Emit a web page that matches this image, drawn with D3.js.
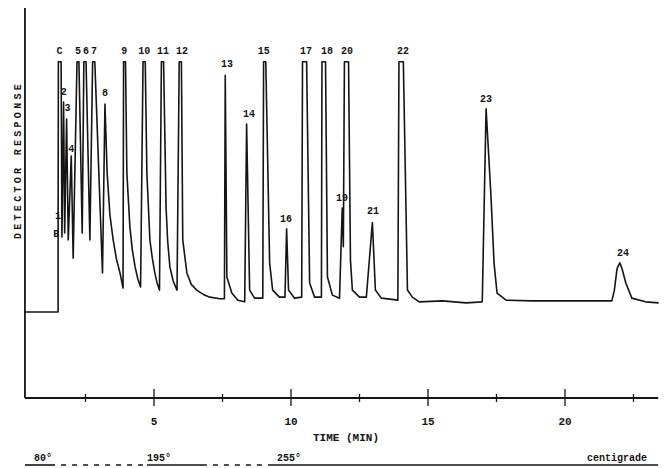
<!DOCTYPE html>
<html>
<head>
<meta charset="utf-8">
<script src="https://cdn.jsdelivr.net/npm/d3@7"></script>
<style>
    body { margin: 0; background: #fff; }
    svg { display: block; }
    .lbl { font-family: "Liberation Mono", "DejaVu Sans Mono", monospace; font-weight: bold; fill: #151515; }
</style>
</head>
<body>
<div id="chart"></div>
<script>
// trace: [time (min), detector response]
var trace = [
    [0.27,25.6],[1.50,25.6],[1.50,47.9],[1.51,100],[1.61,100],[1.64,47.9],[1.70,88],[1.74,49.1],
    [1.81,83],[1.87,47.0],[1.98,72],[2.05,41.6],[2.19,100],[2.26,100],[2.38,49.1],[2.44,100],
    [2.52,100],[2.66,47],[2.76,100],[2.84,100],[3.12,37.2],[3.21,87.4],[3.29,66.9],[3.39,54.5],
    [3.51,47.0],[3.63,41.3],[3.76,37.2],[3.87,32.7],[3.89,100],[3.96,100],[4.01,66.9],[4.12,50.9],
    [4.21,44.0],[4.31,39.0],[4.41,35.4],[4.51,33.0],[4.60,100],[4.68,100],[4.74,66.9],[4.85,47.0],
    [4.94,41.5],[5.03,37.2],[5.11,34.3],[5.20,32.1],[5.27,100],[5.35,100],[5.44,56.8],[5.50,46.5],
    [5.58,39.0],[5.70,34.8],[5.84,32.1],[5.92,100],[6.00,100],[6.05,47.0],[6.20,37.2],[6.36,33.8],
    [6.56,32.1],[6.80,30.8],[7.04,30.0],[7.40,29.5],[7.57,29.5],[7.60,96],[7.66,36.0],[7.84,31.2],
    [8.06,29.1],[8.31,28.6],[8.38,81.5],[8.49,32.1],[8.67,29.7],[8.97,29.7],[9.00,100],[9.08,100],
    [9.22,40.2],[9.33,32.1],[9.58,30.0],[9.78,30.0],[9.84,50.3],[9.91,32.1],[10.13,29.7],[10.39,30.0],
    [10.42,100],[10.57,100],[10.68,34.2],[10.86,30.0],[11.11,30.0],[11.13,100],[11.26,100],[11.33,36.0],
    [11.51,30.6],[11.77,29.7],[11.87,56.5],[11.91,45],[11.95,100],[12.10,100],[12.17,41.0],[12.24,32.1],
    [12.50,30.0],[12.75,30.0],[12.97,52.2],[13.08,32.1],[13.30,29.7],[13.90,29.1],[13.94,100],[14.10,100],
    [14.25,32.1],[14.43,30.0],[14.68,28.6],[15.52,28.9],[16.39,28.3],[16.98,28.6],[17.12,86.0],[17.30,59.8],
    [17.41,40.2],[17.52,31.2],[17.85,29.1],[18.80,28.9],[21.71,28.9],[21.80,32],[21.90,38.5],[22.00,40.2],
    [22.08,38.5],[22.22,34.2],[22.44,29.7],[22.94,28.6],[23.42,28.3]
];

// peak labels
var peakNames   = ["B", "1", "C", "2", "3", "4", "5", "6", "7", "8", "9", "10", "11", "12",
                   "13", "14", "15", "16", "17", "18", "19", "20", "21", "22", "23", "24"];
var peakTimes   = [1.43, 1.50, 1.55, 1.71, 1.84, 1.98, 2.23, 2.52, 2.81, 3.21, 3.91, 4.64, 5.33, 6.02,
                   7.66, 8.47, 9.01, 9.82, 10.55, 11.31, 11.86, 12.04, 12.99, 14.09, 17.12, 22.12];
var peakHeights = [45.5, 50.9, 100, 87.7, 83.0, 70.8, 100, 100, 100, 87.4, 100, 100, 100, 100,
                   96.1, 81.2, 100, 50.0, 100, 100, 56.2, 100, 52.3, 100, 85.7, 39.9];

var majorTicks = [5, 10, 15, 20];
var minorTicks = [2.5, 7.5, 12.5, 17.5, 22.5];

// oven temperature programme
var tempLabels = ["80°", "195°", "255°"];
var holdStart  = [0.29, 4.74, 9.16];
var holdEnd    = [1.39, 6.93, 23.4];

var width = 665, height = 468;

var x = d3.scaleLinear().domain([0, 20]).range([17, 565]);
var y = d3.scaleLinear().domain([0, 116]).range([398, 8]);

var svg = d3.select("#chart")
    .append("svg")
    .attr("width", width)
    .attr("height", height);

svg.append("rect")
    .attr("width", width)
    .attr("height", height)
    .attr("fill", "#fff");

// axes frame
var ink = "#151515";
var x0 = x(0.29), x1 = x(23.4);

svg.append("line")
    .attr("x1", x0).attr("x2", x0)
    .attr("y1", y(116)).attr("y2", y(0))
    .attr("stroke", ink).attr("stroke-width", 1.8);

svg.append("line")
    .attr("x1", x0).attr("x2", x1)
    .attr("y1", y(0)).attr("y2", y(0))
    .attr("stroke", ink).attr("stroke-width", 1.8);

svg.selectAll(".major")
    .data(majorTicks)
    .enter()
    .append("line")
    .attr("x1", function (d) { return x(d); })
    .attr("x2", function (d) { return x(d); })
    .attr("y1", y(0) - 9)
    .attr("y2", y(0) + 8)
    .attr("stroke", ink).attr("stroke-width", 1.3);

svg.selectAll(".minor")
    .data(minorTicks)
    .enter()
    .append("line")
    .attr("x1", function (d) { return x(d); })
    .attr("x2", function (d) { return x(d); })
    .attr("y1", y(0) - 4)
    .attr("y2", y(0) + 4)
    .attr("stroke", ink).attr("stroke-width", 1.3);

svg.selectAll(".tickText")
    .data(majorTicks)
    .enter()
    .append("text")
    .attr("class", "lbl")
    .attr("x", function (d) { return x(d); })
    .attr("y", 425)
    .attr("text-anchor", "middle")
    .attr("font-size", 11)
    .text(function (d) { return d; });

svg.append("text")
    .attr("class", "lbl")
    .attr("x", 346)
    .attr("y", 441)
    .attr("text-anchor", "middle")
    .attr("font-size", 11)
    .text("TIME (MIN)");

svg.append("text")
    .attr("class", "lbl")
    .attr("transform", "translate(21,160) rotate(-90)")
    .attr("text-anchor", "middle")
    .attr("font-size", 10)
    .attr("letter-spacing", 3.3)
    .text("DETECTOR RESPONSE");

// chromatogram trace
var line = d3.line()
    .x(function (d) { return x(d[0]); })
    .y(function (d) { return y(d[1]); });

svg.append("path")
    .datum(trace)
    .attr("d", line)
    .attr("fill", "none")
    .attr("stroke", ink)
    .attr("stroke-width", 1.6)
    .attr("stroke-linejoin", "round");

svg.selectAll(".peak")
    .data(peakNames)
    .enter()
    .append("text")
    .attr("class", "lbl")
    .attr("x", function (d, i) { return x(peakTimes[i]); })
    .attr("y", function (d, i) { return y(peakHeights[i]) - 8; })
    .attr("text-anchor", "middle")
    .attr("font-size", 10)
    .text(function (d) { return d; });

// temperature programme: solid = hold, dashed = ramp
var tY = 465;
for (let i = 0; i < tempLabels.length; i++) {
    svg.append("line")
        .attr("x1", x(holdStart[i])).attr("x2", x(holdEnd[i]))
        .attr("y1", tY).attr("y2", tY)
        .attr("stroke", ink).attr("stroke-width", 1.6);
    svg.append("text")
        .attr("class", "lbl")
        .attr("x", x(holdStart[i]) + (i === 1 ? 0 : 9))
        .attr("y", 461)
        .attr("font-size", 10)
        .text(tempLabels[i]);
    if (i < tempLabels.length - 1) {
        svg.append("line")
            .attr("x1", x(holdEnd[i]) + 6).attr("x2", x(holdStart[i + 1]) - 4)
            .attr("y1", tY).attr("y2", tY)
            .attr("stroke", ink).attr("stroke-width", 1.6)
            .attr("stroke-dasharray", "5,6");
    }
}

svg.append("text")
    .attr("class", "lbl")
    .attr("x", 647)
    .attr("y", 461)
    .attr("text-anchor", "end")
    .attr("font-size", 10)
    .text("centigrade");
</script>
</body>
</html>
